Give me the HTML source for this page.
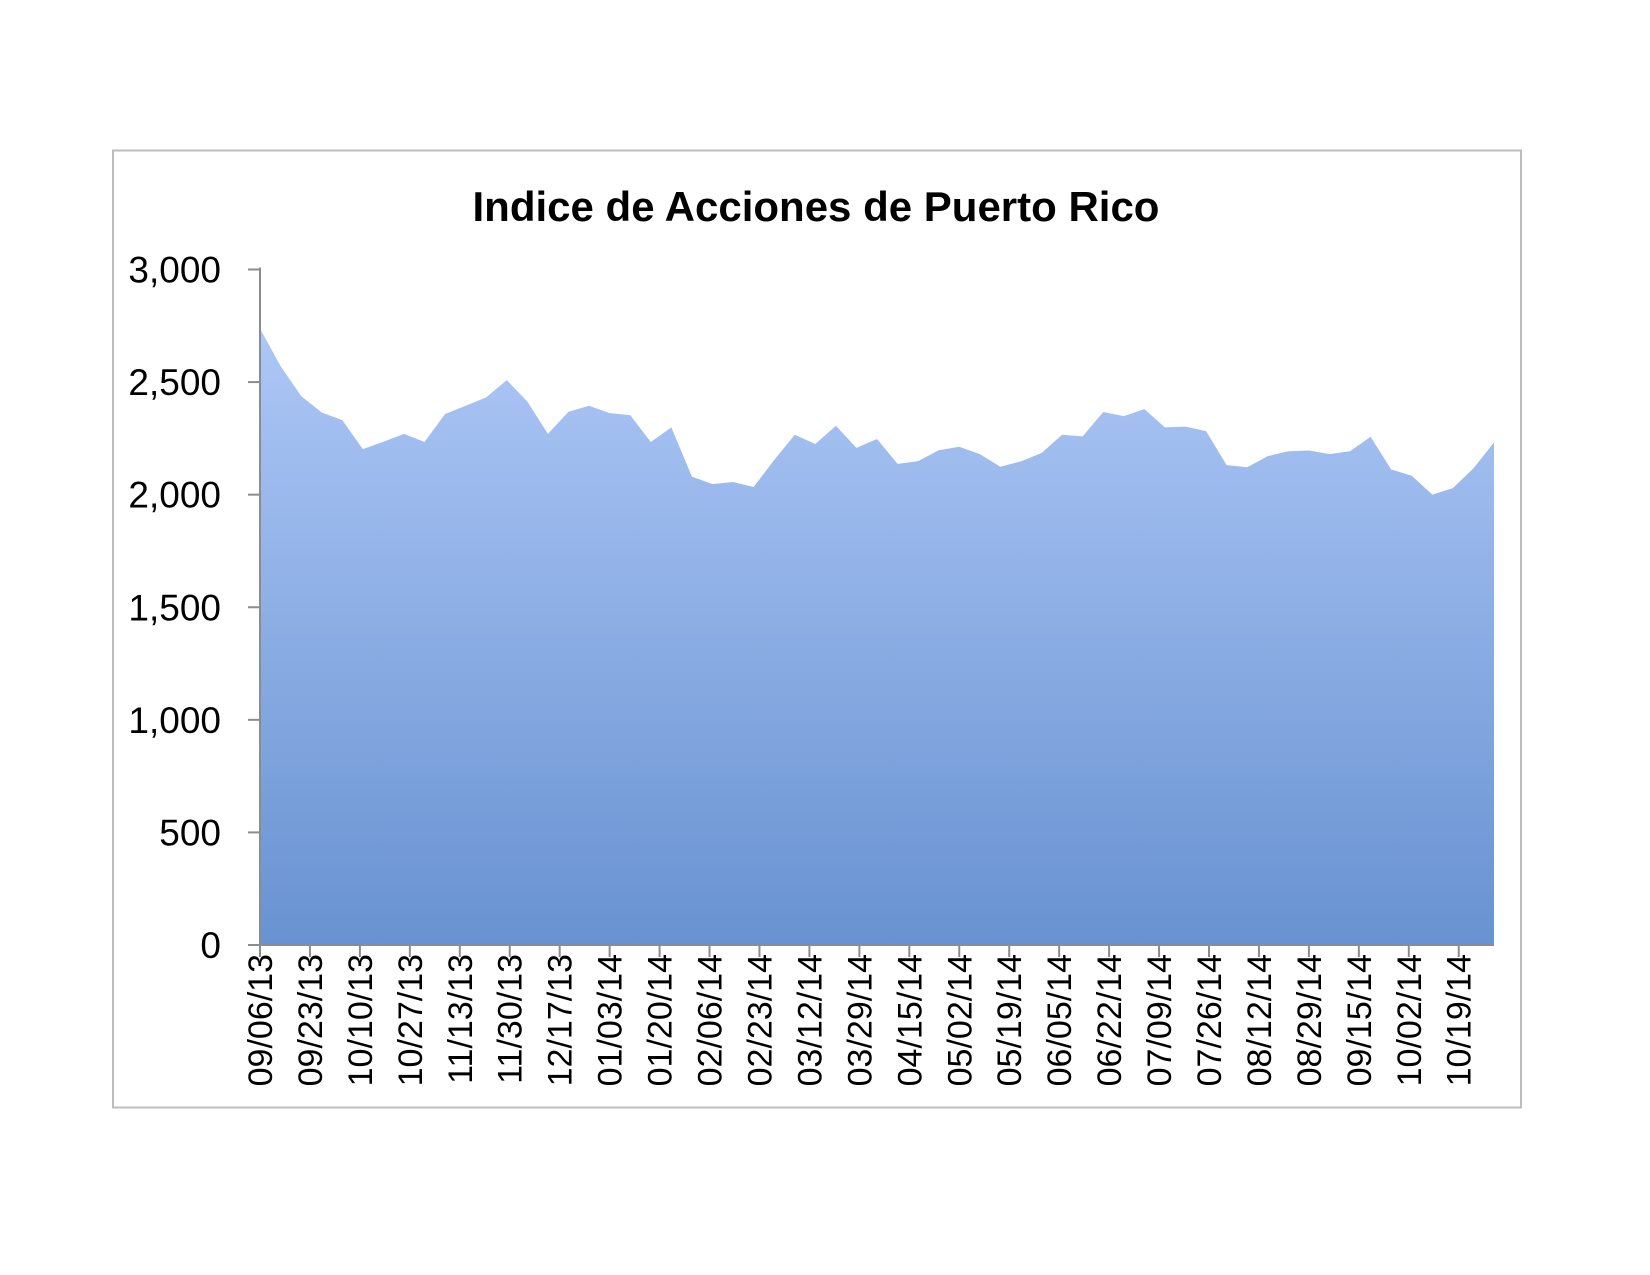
<!DOCTYPE html>
<html><head><meta charset="utf-8"><style>
html,body{margin:0;padding:0;background:#fff;}
svg{display:block;font-family:"Liberation Sans",sans-serif;}
</style></head><body>
<svg id="chart" width="1650" height="1275" viewBox="0 0 1650 1275" xmlns="http://www.w3.org/2000/svg">
<defs><linearGradient id="fillGrad" gradientUnits="userSpaceOnUse" x1="0" y1="269" x2="0" y2="945">
<stop offset="0" stop-color="#b4ccfa"/><stop offset="1" stop-color="#6892d1"/></linearGradient></defs>
<rect x="113" y="150.5" width="1408" height="957" fill="#fff" stroke="#bdbdbd" stroke-width="2"/>
<text x="816" y="221" text-anchor="middle" font-size="42" font-weight="bold" fill="#000">Indice de Acciones de Puerto Rico</text>
<g id="plot"></g>
</svg>
<script>
const values = [2738,2571,2438,2365,2331,2202,2235,2270,2234,2358,2395,2432,2509,2413,2270,2368,2395,2362,2353,2234,2299,2080,2047,2056,2034,2154,2266,2225,2306,2208,2247,2137,2149,2197,2213,2180,2124,2148,2185,2266,2259,2367,2349,2380,2299,2302,2282,2131,2122,2171,2193,2196,2180,2193,2257,2112,2084,2000,2029,2117,2232];
const xLabels = ["09/06/13","09/23/13","10/10/13","10/27/13","11/13/13","11/30/13","12/17/13","01/03/14","01/20/14","02/06/14","02/23/14","03/12/14","03/29/14","04/15/14","05/02/14","05/19/14","06/05/14","06/22/14","07/09/14","07/26/14","08/12/14","08/29/14","09/15/14","10/02/14","10/19/14"];
const yTicks = [0,500,1000,1500,2000,2500,3000];
const yTickLabels = ["0","500","1,000","1,500","2,000","2,500","3,000"];
const pointStepDays = 7;
const labelStepDays = 17;

const NS = "http://www.w3.org/2000/svg";
const X0 = 260, X1 = 1494, Y0 = 945, Y1 = 269.5;
const totalDays = (values.length - 1) * pointStepDays;
const xDay = d => X0 + d / totalDays * (X1 - X0);
const yVal = v => Y0 - v / 3000 * (Y0 - Y1);
const g = document.getElementById('plot');
function mk(tag, attrs){const e=document.createElementNS(NS,tag);for(const k in attrs)e.setAttribute(k,attrs[k]);g.appendChild(e);return e;}

let d = "M" + xDay(0) + "," + Y0;
values.forEach((v,i)=>{ d += " L" + xDay(i*pointStepDays).toFixed(2) + "," + yVal(v).toFixed(2); });
d += " L" + xDay(totalDays) + "," + Y0 + " Z";
const area = mk('path',{d:d, fill:'url(#fillGrad)'});



const yAxis = mk('line',{x1:X0,y1:Y1-2,x2:X0,y2:Y0,stroke:'#8c8c8c','stroke-width':2});


const xAxis = mk('line',{x1:X0,y1:Y0,x2:X1,y2:Y0,stroke:'#8c8c8c','stroke-width':2});



yTicks.forEach((t,i)=>{
  const y = yVal(t);
  const tk = mk('line',{x1:X0-12,y1:y,x2:X0,y2:y,stroke:'#8c8c8c','stroke-width':2});
  
  
  const tx = mk('text',{x:221,y:y+13,'text-anchor':'end','font-size':37,fill:'#000'});
  tx.textContent = yTickLabels[i];
  
  
});

xLabels.forEach((lab,i)=>{
  const x = xDay(i*labelStepDays);
  const tk = mk('line',{x1:x,y1:Y0,x2:x,y2:Y0+12,stroke:'#8c8c8c','stroke-width':2});
  
  
  const tx = mk('text',{x:0,y:0,'text-anchor':'end','font-size':34,fill:'#000',transform:'translate('+(x+12)+','+(Y0+9)+') rotate(-90)'});
  tx.textContent = lab;
  
  
});
</script>
</body></html>
